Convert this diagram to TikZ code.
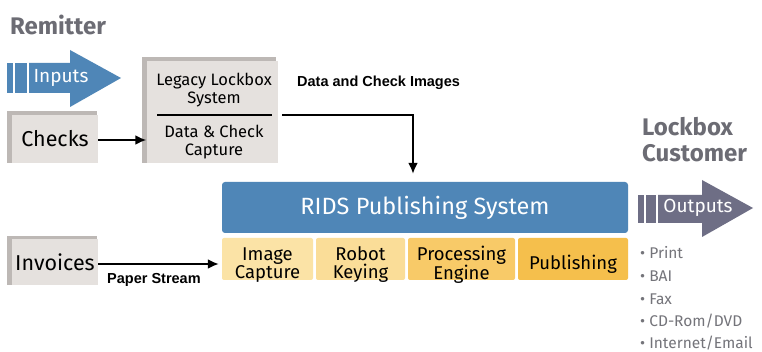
\documentclass[tikz,border=0pt]{standalone}
\usepackage{fontspec}
\setmainfont{Fira Sans}
\newfontfamily\arialfont{Liberation Sans}
\usetikzlibrary{arrows.meta}
\definecolor{ridsblue}{HTML}{4F86B7}
\definecolor{outgray}{HTML}{6E6E85}
\definecolor{titlegray}{HTML}{6C6C74}
\definecolor{bulletgray}{HTML}{74747A}
\definecolor{boxgray}{HTML}{E5E1DE}
\definecolor{boxshade}{HTML}{BDB8B5}
\definecolor{yelA}{HTML}{FBE3A6}
\definecolor{yelB}{HTML}{FADD98}
\definecolor{yelC}{HTML}{F8CA68}
\definecolor{yelD}{HTML}{F5BF4C}
\tikzset{
  graybox/.style={fill=boxgray, draw=none, inner sep=0pt, align=center},
  subbox/.style={draw=none, inner sep=0pt, minimum height=42pt, rounded corners=2pt},
  subtext/.style={inner sep=0pt, align=center, font=\fontsize{18.5}{18}\selectfont},
  conn/.style={line width=2pt, -{Latex[length=11pt,width=10pt]}},
  title/.style={font=\fontsize{24}{26}\selectfont\bfseries, text=titlegray, align=left, anchor=west, inner sep=0pt},
  smalllab/.style={font=\arialfont\fontsize{14.5}{16}\selectfont\bfseries, inner sep=0pt},
  bullet/.style={font=\fontsize{15.5}{17}\selectfont, text=bulletgray, anchor=west, inner sep=0pt}
}
\begin{document}
\begin{tikzpicture}[x=1pt,y=-1pt]
\useasboundingbox[fill=white] (0,0) rectangle (762,352);

% titles
\node[title] (remitter) at (10,25) {Remitter};
\node[title] (lockcust) at (642,140) {Lockbox\\Customer};

% Inputs arrow
\fill[ridsblue] (7,63) rectangle (13,93);
\fill[ridsblue] (15,63) rectangle (27,93);
\fill[ridsblue] (29,63) -- (70,63) -- (70,50) -- (121,78) -- (70,107) -- (70,93) -- (29,93) -- cycle;
\node[text=white, font=\fontsize{19}{20}\selectfont, inner sep=0pt] (inputs) at (61,78) {Inputs};

% Outputs arrow
\fill[outgray] (638,195) rectangle (644,223);
\fill[outgray] (646,195) rectangle (656,223);
\fill[outgray] (658,195) -- (702,195) -- (702,180) -- (753,208) -- (702,237) -- (702,223) -- (658,223) -- cycle;
\node[text=white, font=\fontsize{19}{20}\selectfont, inner sep=0pt] (outputs) at (698,208) {Outputs};

% gray boxes with bevel
\fill[boxshade] (7,111) rectangle (97,163);
\node[graybox, minimum width=86pt, minimum height=48pt, font=\fontsize{21.5}{22}\selectfont] (checks) at (55,139) {Checks};

\fill[boxshade] (142,57) rectangle (276,163);
\node[graybox, minimum width=131pt, minimum height=102pt] (legacy) at (212,112) {};
\node[font=\fontsize{16.5}{18}\selectfont, align=center, inner sep=0pt] (legtxt) at (214,90) {Legacy Lockbox\\System};
\node[font=\fontsize{16.5}{18}\selectfont, align=center, inner sep=0pt] (captxt) at (214,142) {Data \& Check\\Capture};
\coordinate (divL) at (157,115);
\coordinate (divR) at (272,115);
\draw[line width=1.8pt] (divL) -- (divR);

\fill[boxshade] (7,236) rectangle (97,285);
\node[graybox, minimum width=86pt, minimum height=46pt, font=\fontsize{21.5}{22}\selectfont] (invoices) at (55,262) {Invoices};

% RIDS
\node[fill=ridsblue, minimum width=406pt, minimum height=51pt, inner sep=0pt, rounded corners=3pt,
      text=white, font=\fontsize{23.5}{24}\selectfont] (rids) at (425,207.5) {RIDS Publishing System};

\node[subbox, fill=yelA, minimum width=91pt] (imgcap) at (267.5,259) {};
\node[subbox, fill=yelB, minimum width=89pt] (robot) at (360.5,259) {};
\node[subbox, fill=yelC, minimum width=107pt] (proc) at (461.5,259) {};
\node[subbox, fill=yelD, minimum width=110pt] (publ) at (573,259) {};
\node[subtext] (imgcaptxt) at (imgcap.center |- 0,265) {Image\\Capture};
\node[subtext] (robottxt) at (robot.center |- 0,265) {Robot\\Keying};
\node[subtext] (proctxt) at (proc.center |- 0,265) {Processing\\Engine};
\node[subtext] (publtxt) at (publ.center |- 0,264) {Publishing};

% connectors
\draw[conn] (checks.east |- 0,140) -- (legacy.west |- 0,140);
\coordinate (bend) at (413,115);
\draw[conn, shorten >=8pt] (282,115) -- (bend) -- (bend |- rids.north);
\node[smalllab, anchor=west] (dcimg) at (297,83) {Data and Check Images};
\draw[conn, shorten >=3pt] (invoices.east |- 0,264) -- (imgcap.west |- 0,264);
\node[smalllab, anchor=west] (paper) at (107,280) {Paper Stream};

% bullets
\node[bullet] (b1) at (640,253) {• Print};
\node[bullet] (b2) at (640,276) {• BAI};
\node[bullet] (b3) at (640,299) {• Fax};
\node[bullet] (b4) at (640,321) {• CD-Rom/DVD};
\node[bullet] (b5) at (640,343) {• Internet/Email};
\end{tikzpicture}
\end{document}
